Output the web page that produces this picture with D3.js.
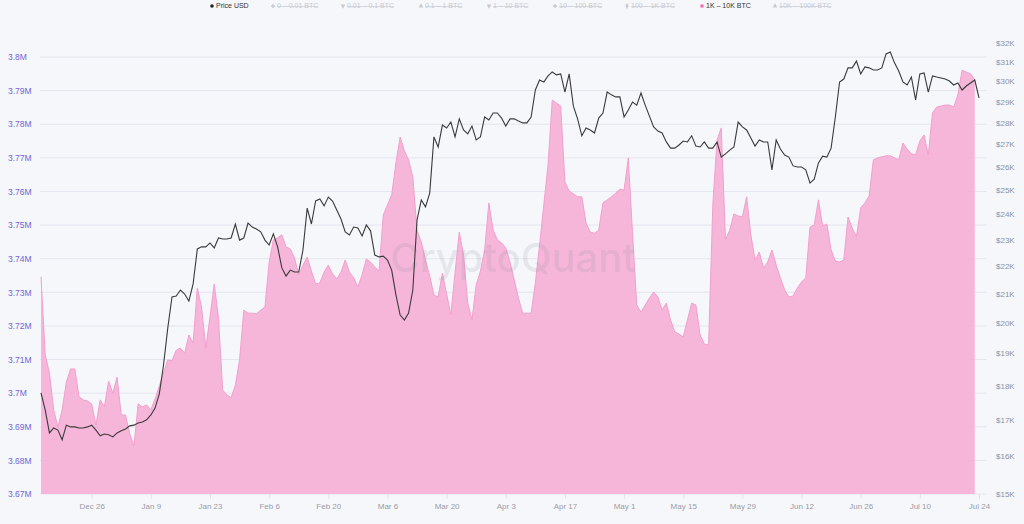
<!DOCTYPE html>
<html>
<head>
<meta charset="utf-8">
<script src="https://cdn.jsdelivr.net/npm/d3@7"></script>
<style>
  html, body { margin: 0; padding: 0; background: #f6f7fb; }
  svg { display: block; font-family: "Liberation Sans", Arial, sans-serif; }
</style>
</head>
<body>
<svg id="chart" width="1024" height="524"></svg>
<script>
// ---------- DATA ----------
const startDate = "2022-12-14";
// BTC price (USD), daily, Dec 14 2022 – Jul 24 2023
const priceUSD = [
  17780,17270,16620,16760,16700,16430,16840,16790,16790,16760,
  16760,16790,16840,16700,16540,16590,16570,16510,16620,16680,
  16730,16820,16840,16900,16930,16990,17130,17330,17750,18630,
  19820,20890,20920,21130,20990,20740,21350,22640,22720,22720,
  22870,22680,23060,23020,23020,23060,23610,22980,23060,23650,
  23490,23410,23300,22980,22790,23220,22720,21930,21630,21850,
  21780,21780,22600,24250,23610,24540,24620,24340,24700,24540,
  24170,23810,23300,23180,23490,23450,23140,23570,23340,22410,
  22340,22370,22220,21850,20960,20260,20090,20330,21130,23770,
  24580,24300,24870,27330,26870,27880,27740,28020,27330,28170,
  27650,27470,27830,27190,27330,28260,28120,28450,28450,28210,
  27830,28170,28170,28070,27980,27980,28260,29570,30070,29970,
  30280,30480,30330,30380,29470,30380,28780,28170,27380,27740,
  27650,27510,28210,28450,29470,29330,29230,29230,28260,28590,
  28980,28830,29420,28830,28300,27790,27600,27510,27100,26820,
  26820,26960,27140,27100,27380,26910,26870,27100,26820,26820,
  27100,26420,26560,26730,26870,28020,27790,27650,27280,26910,
  27190,27100,27100,25860,27190,26780,26510,26420,26030,25980,
  25980,25860,25290,25460,26160,26460,26420,26820,28260,29970,
  30120,30690,30690,31040,30380,30740,30690,30580,30580,30690,
  31420,31520,30950,30530,29970,29820,30220,29080,30380,30430,
  29470,30280,30220,30170,30120,30020,29820,29920,29570,29770,
  29920,30070,29180
];
// Total balance of 1K – 10K BTC addresses (millions of BTC), daily, Dec 14 2022 – Jul 23 2023
const balance1Kto10K = [
  3.7346,3.7114,3.7060,3.6950,3.6899,3.6950,3.7033,3.7072,3.7072,3.6989,
  3.6980,3.6977,3.6968,3.6905,3.6980,3.6959,3.7036,3.7000,3.7048,3.6935,
  3.6935,3.6879,3.6843,3.6968,3.6959,3.6965,3.6950,3.6983,3.7021,3.7060,
  3.7099,3.7096,3.7128,3.7134,3.7119,3.7173,3.7149,3.7313,3.7256,3.7134,
  3.7227,3.7325,3.7224,3.7009,3.6995,3.6986,3.7024,3.7099,3.7247,3.7238,
  3.7238,3.7236,3.7247,3.7256,3.7390,3.7456,3.7462,3.7471,3.7435,3.7429,
  3.7402,3.7352,3.7381,3.7405,3.7363,3.7325,3.7328,3.7360,3.7381,3.7355,
  3.7340,3.7360,3.7396,3.7360,3.7343,3.7316,3.7352,3.7399,3.7390,3.7375,
  3.7363,3.7530,3.7560,3.7590,3.7685,3.7762,3.7720,3.7694,3.7643,3.7485,
  3.7450,3.7396,3.7349,3.7292,3.7286,3.7357,3.7295,3.7233,3.7360,3.7479,
  3.7411,3.7268,3.7218,3.7322,3.7363,3.7426,3.7566,3.7485,3.7456,3.7447,
  3.7432,3.7390,3.7337,3.7283,3.7238,3.7238,3.7238,3.7328,3.7441,3.7560,
  3.7679,3.7872,3.7863,3.7854,3.7628,3.7601,3.7593,3.7584,3.7584,3.7506,
  3.7479,3.7476,3.7485,3.7566,3.7575,3.7584,3.7595,3.7607,3.7604,3.7700,
  3.7476,3.7262,3.7241,3.7262,3.7283,3.7301,3.7286,3.7247,3.7268,3.7218,
  3.7182,3.7176,3.7167,3.7218,3.7268,3.7262,3.7173,3.7146,3.7143,3.7560,
  3.7753,3.7789,3.7456,3.7485,3.7533,3.7527,3.7524,3.7584,3.7471,3.7396,
  3.7420,3.7372,3.7390,3.7426,3.7381,3.7343,3.7307,3.7286,3.7289,3.7313,
  3.7331,3.7343,3.7494,3.7500,3.7575,3.7497,3.7503,3.7426,3.7393,3.7390,
  3.7396,3.7524,3.7491,3.7465,3.7551,3.7566,3.7587,3.7694,3.7700,3.7703,
  3.7706,3.7706,3.7700,3.7694,3.7744,3.7726,3.7712,3.7709,3.7750,3.7768,
  3.7709,3.7834,3.7851,3.7854,3.7857,3.7857,3.7851,3.7887,3.7961,3.7955,
  3.7950,3.7932
];
const leftTicks = [3.67,3.68,3.69,3.70,3.71,3.72,3.73,3.74,3.75,3.76,3.77,3.78,3.79,3.80];
const rightTicks = [15000,16000,17000,18000,19000,20000,21000,22000,23000,24000,25000,26000,27000,28000,29000,30000,31000,32000];
const xTickDates = ["2022-12-26","2023-01-09","2023-01-23","2023-02-06","2023-02-20","2023-03-06","2023-03-20","2023-04-03","2023-04-17","2023-05-01","2023-05-15","2023-05-29","2023-06-12","2023-06-26","2023-07-10","2023-07-24"];
const legendLabels = ["Price USD","0 – 0.01 BTC","0.01 – 0.1 BTC","0.1 – 1 BTC","1 – 10 BTC","10 – 100 BTC","100 – 1K BTC","1K – 10K BTC","10K – 100K BTC"];
const legendActive = [true,false,false,false,false,false,false,true,false];
const legendSymbols = ["circle","cross","triangle2","triangle","triangle2","cross","diamond","square","triangle"];

// ---------- BUILD ----------
const parse = d3.utcParse("%Y-%m-%d");
const t0 = parse(startDate);
const day = i => d3.utcDay.offset(t0, i);
const priceData = priceUSD.map((v, i) => ({ date: day(i), v }));
const balData = balance1Kto10K.map((v, i) => ({ date: day(i), v }));

const svg = d3.select("#chart");
const W = 1024, H = 524;
const plot = { left: 40, right: 987, top: 43, bottom: 494 };

const x = d3.scaleUtc()
  .domain([t0, parse("2023-07-24")])
  .range([41, 979]);
const yL = d3.scaleLinear().domain([3.67, 3.80]).range([494, 57]);
const yR = d3.scaleLog().domain([15000, 32000]).range([494, 43]);

svg.append("rect").attr("width", W).attr("height", H).attr("fill", "#f6f7fb");

// grid lines (left axis)
svg.append("g").selectAll("line").data(leftTicks).join("line")
  .attr("x1", plot.left).attr("x2", plot.right)
  .attr("y1", d => yL(d)).attr("y2", d => yL(d))
  .attr("stroke", "#e4e6ee").attr("stroke-width", 1);

// area
const area = d3.area().x(d => x(d.date)).y0(yL(3.67)).y1(d => yL(d.v));
svg.append("path").datum(balData)
  .attr("d", area).attr("fill", "#f5b2d7").attr("fill-opacity", 0.95);
const topLine = d3.line().x(d => x(d.date)).y(d => yL(d.v));
svg.append("path").datum(balData)
  .attr("d", topLine).attr("fill", "none").attr("stroke", "#f29fcd").attr("stroke-width", 1);

// watermark (over the area)
svg.append("text")
  .attr("x", 513).attr("y", 272)
  .attr("text-anchor", "middle")
  .attr("font-size", 40).attr("font-weight", 500)
  .attr("font-family", "Inter, 'Liberation Sans', sans-serif")
  .attr("fill", "#8c8c99").attr("fill-opacity", 0.16)
  .text("CryptoQuant");

// price line
const line = d3.line().x(d => x(d.date)).y(d => yR(d.v));
svg.append("path").datum(priceData)
  .attr("d", line).attr("fill", "none").attr("stroke", "#3a3a3a").attr("stroke-width", 1.1);

// left axis
const leftAxis = d3.axisLeft(yL).tickValues(leftTicks).tickSize(0)
  .tickFormat(d => d3.format(".3~f")(d) + "M");
const gL = svg.append("g").attr("transform", "translate(8,0)").call(leftAxis);
gL.select(".domain").remove();
gL.selectAll("text").attr("text-anchor", "start").attr("x", 0).attr("dy", "0.32em")
  .attr("fill", "#6f66d6").attr("font-size", 8.5)
  .attr("font-family", "'Liberation Sans', Arial, sans-serif");

// right axis
const rightAxis = d3.axisRight(yR).tickValues(rightTicks).tickSize(0)
  .tickFormat(d => "$" + (d / 1000) + "K");
const gR = svg.append("g").attr("transform", "translate(996,0)").call(rightAxis);
gR.select(".domain").remove();
gR.selectAll("text").attr("x", 0).attr("dy", "0.32em")
  .attr("fill", "#8e929c").attr("font-size", 8)
  .attr("font-family", "'Liberation Sans', Arial, sans-serif");

// bottom axis
const bottomAxis = d3.axisBottom(x).tickValues(xTickDates.map(parse)).tickSize(5)
  .tickFormat(d3.utcFormat("%b %-d"));
const gB = svg.append("g").attr("transform", `translate(0,${plot.bottom})`).call(bottomAxis);
gB.select(".domain").remove();
gB.selectAll("line").attr("stroke", "#e2e4ec");
gB.selectAll("text").attr("y", 12).attr("dy", "0.32em")
  .attr("fill", "#9a9ca6").attr("font-size", 8)
  .attr("font-family", "'Liberation Sans', Arial, sans-serif");

// legend
const legendX = [212, 273, 343, 421, 489, 555, 627, 702, 775];
const lg = svg.append("g").attr("font-size", 7).attr("font-family", "'Liberation Sans', Arial, sans-serif");
legendLabels.forEach((lab, i) => {
  const g = lg.append("g").attr("transform", `translate(${legendX[i]},6)`);
  const active = legendActive[i];
  const col = i === 0 ? "#222" : (i === 7 ? "#ee6fb0" : "#c9cbd3");
  const symMap = { circle: d3.symbolCircle, cross: d3.symbolCross, triangle: d3.symbolTriangle,
    triangle2: d3.symbolTriangle, diamond: d3.symbolDiamond, square: d3.symbolSquare };
  g.append("path")
    .attr("d", d3.symbol().type(symMap[legendSymbols[i]]).size(10)())
    .attr("transform", legendSymbols[i] === "triangle2" ? "rotate(180)" : null)
    .attr("fill", col);
  g.append("text").attr("x", 4).attr("dy", "0.35em")
    .attr("fill", active ? "#333" : "#c9cbd3")
    .attr("text-decoration", active ? null : "line-through")
    .text(lab);
});
</script>
</body>
</html>
